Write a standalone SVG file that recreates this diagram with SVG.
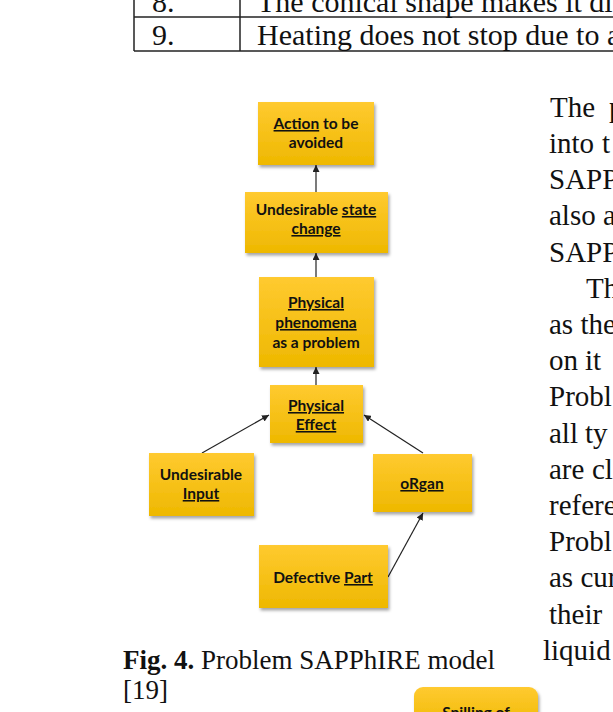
<svg xmlns="http://www.w3.org/2000/svg" width="613" height="712" viewBox="0 0 613 712">
<defs>
<linearGradient id="g" x1="0" y1="0" x2="0" y2="1">
<stop offset="0" stop-color="#FFCA30"/>
<stop offset="1" stop-color="#EEB800"/>
</linearGradient>
<filter id="sh" x="-10%" y="-10%" width="130%" height="130%">
<feDropShadow dx="1.5" dy="2.5" stdDeviation="1.5" flood-color="#000" flood-opacity="0.35"/>
</filter>
<marker id="ah" viewBox="0 0 10 10" refX="10" refY="5" markerWidth="7" markerHeight="7" markerUnits="userSpaceOnUse" orient="auto">
<path d="M0,0 L10,5 L0,10 z" fill="#222"/>
</marker>
<style>
.box{fill:url(#g);filter:url(#sh);}
.lb{font-family:Lato,"Open Sans",sans-serif;font-weight:bold;font-size:15.5px;fill:#111;text-anchor:middle;}
.u{text-decoration:underline;}
.body{font-family:"Liberation Serif","Times New Roman",serif;font-size:29px;fill:#111;}
.tb{font-family:"Liberation Serif","Times New Roman",serif;font-size:30px;fill:#111;}
.cap{font-family:"Liberation Serif","Times New Roman",serif;font-size:27px;fill:#111;}
.edge{stroke:#222;stroke-width:1.2;fill:none;marker-end:url(#ah);}
.tl{stroke:#222;stroke-width:1.5;fill:none;}
</style>
</defs>
<rect width="613" height="712" fill="#fff"/>

<g id="table">
<line class="tl" x1="134" y1="0" x2="134" y2="51"/>
<line class="tl" x1="240" y1="0" x2="240" y2="51"/>
<line class="tl" x1="134" y1="17" x2="613" y2="17"/>
<line class="tl" x1="134" y1="51" x2="613" y2="51"/>
<text class="tb" x="152" y="12">8.</text>
<text class="tb" x="257" y="12">The conical shape makes it di</text>
<text class="tb" x="152" y="45">9.</text>
<text class="tb" x="257" y="45">Heating does not stop due to a</text>
</g>

<g id="connectors">
<line class="edge" x1="316" y1="192" x2="316" y2="165"/>
<line class="edge" x1="316" y1="277" x2="316" y2="253"/>
<line class="edge" x1="316" y1="385" x2="316" y2="367"/>
<line class="edge" x1="202" y1="453" x2="269" y2="415"/>
<line class="edge" x1="423" y1="453" x2="364" y2="415"/>
<line class="edge" x1="388" y1="577" x2="423" y2="513"/>
</g>

<g id="action">
<rect class="box" x="258" y="102" width="116" height="63"/>
<text class="lb" x="316" y="129"><tspan class="u">Action</tspan> to be</text>
<text class="lb" x="316" y="148">avoided</text>
</g>
<g id="state">
<rect class="box" x="245" y="192" width="143" height="61"/>
<text class="lb" x="316" y="215">Undesirable <tspan class="u">state</tspan></text>
<text class="lb u" x="316" y="234">change</text>
</g>
<g id="phenomena">
<rect class="box" x="259" y="277" width="115" height="90"/>
<text class="lb u" x="316" y="308">Physical</text>
<text class="lb u" x="316" y="328">phenomena</text>
<text class="lb" x="316" y="348">as a problem</text>
</g>
<g id="effect">
<rect class="box" x="270" y="385" width="93" height="58"/>
<text class="lb u" x="316" y="411">Physical</text>
<text class="lb u" x="316" y="430">Effect</text>
</g>
<g id="input">
<rect class="box" x="149" y="453" width="105" height="63"/>
<text class="lb" x="201" y="480">Undesirable</text>
<text class="lb u" x="201" y="499">Input</text>
</g>
<g id="organ">
<rect class="box" x="373" y="454" width="99" height="58"/>
<text class="lb u" x="422" y="489">oRgan</text>
</g>
<g id="defective">
<rect class="box" x="259" y="545" width="129" height="63"/>
<text class="lb" x="323" y="583">Defective <tspan class="u">Part</tspan></text>
</g>
<g id="spilling">
<rect class="box" x="414" y="687" width="124" height="45" rx="9"/>
<text class="lb" x="476" y="718">Spilling of</text>
</g>

<g id="bodytext">
<text class="body" x="550" y="117">The <tspan x="609">p</tspan></text>
<text class="body" x="549" y="153">into <tspan x="602">t</tspan></text>
<text class="body" x="549" y="189">SAPP</text>
<text class="body" x="549" y="225">also <tspan x="603">a</tspan></text>
<text class="body" x="549" y="262">SAPP</text>
<text class="body" x="586" y="298">Th</text>
<text class="body" x="549" y="334">as the</text>
<text class="body" x="549" y="370">on <tspan x="585">it</tspan></text>
<text class="body" x="549" y="406">Probl</text>
<text class="body" x="549" y="443">all <tspan x="585">ty</tspan></text>
<text class="body" x="549" y="479">are <tspan x="592">cl</tspan></text>
<text class="body" x="549" y="515">refere</text>
<text class="body" x="549" y="551">Probl</text>
<text class="body" x="549" y="587">as cur</text>
<text class="body" x="549" y="624">their</text>
<text class="body" x="543" y="660">liquid</text>
</g>

<g id="caption">
<text class="cap" x="123" y="669"><tspan font-weight="bold">Fig. 4.</tspan> Problem SAPPhIRE model</text>
<text class="cap" x="123" y="699">[19]</text>
</g>
</svg>
